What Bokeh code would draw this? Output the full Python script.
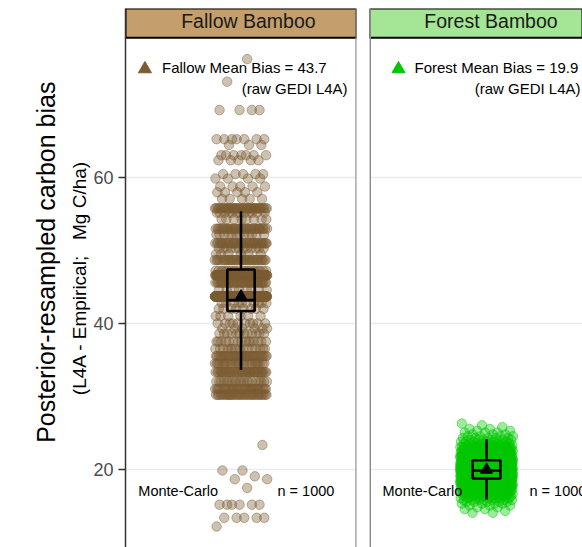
import math
from bokeh.plotting import figure
from bokeh.models import Range1d, Label, FixedTicker, Grid, Span
from bokeh.core.properties import value
from bokeh.layouts import row
from bokeh.embed import file_html
from bokeh.resources import INLINE

# ---------------- data ----------------
panels = ["Fallow Bamboo", "Forest Bamboo"]
mean_bias = [43.7, 19.9]
n_mc = [1000, 1000]
y_ticks = [20, 40, 60]

fallow_levels = [76.3, 73.2, 69.3, 65.3, 64.5, 63.1, 62.4, 60.5, 59.9, 58.8, 58.0, 57.1,
                 55.8, 55.2, 54.3, 53.0, 52.2, 51.0, 50.3, 49.5, 48.7,
                 47.2, 46.6, 45.6, 44.6, 43.7, 42.8, 42.0,
                 41.0, 40.0, 39.3, 38.6, 37.5, 36.5, 35.5, 34.5, 33.3, 32.0, 31.0, 30.2,
                 23.3, 19.8, 19.0, 18.6, 17.4, 15.1, 13.3, 12.1]
fallow_counts = [1, 1, 4, 7, 3, 7, 5, 5, 4, 5, 5, 5,
                 40, 12, 8, 35, 12, 40, 12, 6, 33,
                 20, 120, 40, 8, 276, 10, 8,
                 6, 10, 6, 12, 15, 15, 35, 25, 40, 20, 30, 35,
                 1, 2, 1, 2, 1, 6, 5, 1]

forest_levels = [14.0, 14.25, 14.5, 14.75, 15.0, 15.25, 15.5, 15.75, 16.0, 16.25,
                 16.5, 16.75, 17.0, 17.25, 17.5, 17.75, 18.0, 18.25, 18.5, 18.75,
                 19.0, 19.25, 19.5, 19.75, 20.0, 20.25, 20.5, 20.75, 21.0, 21.25,
                 21.5, 21.75, 22.0, 22.25, 22.5, 22.75, 23.0, 23.25, 23.5, 23.75,
                 24.0, 24.25, 24.5, 24.75, 25.0, 25.25, 25.5, 25.75, 26.0, 26.25]
forest_counts = [2, 1, 2, 2, 3, 4, 5, 7, 9, 11,
                 13, 16, 19, 22, 25, 29, 32, 36, 39, 42,
                 45, 48, 49, 50, 50, 49, 47, 44, 41, 38,
                 34, 30, 27, 23, 20, 17, 14, 11, 9, 7,
                 6, 5, 4, 3, 3, 2, 2, 1, 1, 1]

# box stats: [whisker low, Q1, median, Q3, whisker high]
fallow_box = [33.6, 41.7, 43.2, 47.4, 55.4]
forest_box = [15.8, 18.7, 19.8, 21.2, 24.1]

# ---------------- layout ----------------
FONT = "Liberation Sans"
BROWN = "#7B5B32"
GREEN = "#00C800"
STRIP_COLORS = ["#C49F6C", "#A4E596"]
X0, X1 = 0.4, 1.6
FRAME_W = 234.0
FRAME_TOP, FRAME_BOT = 8.0, 547.0
Y0, Y1 = 9.22, 83.25
L1, L2 = 122.0, 369.0
H = 547
W0 = 66


def xd(px, left):
    return X0 + (px - left) * (X1 - X0) / FRAME_W


def yd(py):
    return Y1 - (py - FRAME_TOP) * (Y1 - Y0) / (FRAME_BOT - FRAME_TOP)


def jitter_points(levels, counts, half):
    xs, ys = [], []
    k = 0
    for v, c in zip(levels, counts):
        for _ in range(c):
            k += 1
            f = (k * 0.6180339887498949) % 1.0
            xs.append(1.0 + (2 * f - 1) * half)
            ys.append(v)
    return xs, ys


def make_panel(idx, width, mbl, mbr, xend):
    p = figure(width=width, height=H, x_range=Range1d(X0, xend), y_range=Range1d(Y0, Y1),
               output_backend="svg", toolbar_location=None,
               min_border_left=mbl, min_border_right=mbr, min_border_top=int(FRAME_TOP),
               min_border_bottom=0,
               x_axis_location=None, y_axis_location=("left" if idx == 0 else None))
    p.outline_line_color = None
    p.background_fill_color = "white"
    p.border_fill_color = "white"
    p.xgrid.visible = False
    p.ygrid.visible = False
    p.add_layout(Grid(dimension=1, ticker=FixedTicker(ticks=y_ticks),
                      grid_line_color="#EBEBEB", grid_line_width=1.6))
    return p


def label(p, left, px, py, text, size, align="left", color="black"):
    p.add_layout(Label(x=xd(px, left), y=yd(py), text=text, text_font=FONT, text_font_size=size,
                       text_align=align, text_baseline="middle", text_color=color))


# title strip figure on the far left
p0 = figure(width=W0, height=H, x_range=Range1d(0, W0), y_range=Range1d(0, H),
            output_backend="svg", toolbar_location=None, min_border=0,
            x_axis_location=None, y_axis_location=None)
p0.outline_line_color = None
p0.xgrid.visible = False
p0.ygrid.visible = False
p0.text(x=[45.5], y=[H - 257.5], text=["Posterior-resampled carbon bias"], angle=math.pi / 2,
        text_font=value(FONT), text_font_size="25px", text_align="center",
        text_baseline="middle", text_color="black")

p1 = make_panel(0, 362 - W0, int(L1 - W0), 6, X1)
p2 = make_panel(1, 220, 7, 0, xd(582, L2))

# y axis styling
ax = p1.yaxis[0]
ax.ticker = FixedTicker(ticks=y_ticks)
ax.major_label_text_font = FONT
ax.major_label_text_font_size = "18px"
ax.major_label_text_color = "#4D4D4D"
ax.axis_line_color = "#333333"
ax.axis_line_width = 1.5
ax.major_tick_line_color = "#333333"
ax.major_tick_line_width = 1.5
ax.major_tick_out = 7
ax.major_tick_in = 0
ax.minor_tick_out = 0
ax.minor_tick_in = 0
ax.major_label_standoff = 5
ax.axis_label = "(L4A - Empirical;\u00a0\u00a0\u00a0Mg C/ha)"
ax.axis_label_text_font = FONT
ax.axis_label_text_font_size = "19px"
ax.axis_label_text_font_style = "normal"
ax.axis_label_text_color = "black"
ax.axis_label_standoff = 0

# panel borders
p1.add_layout(Span(location=xd(355.8, L1), dimension="height", line_color="#8A8A8A", line_width=1.8))
p2.add_layout(Span(location=xd(369.6, L2), dimension="height", line_color="#8A8A8A", line_width=1.8))

half = 0.136
for idx, (p, left, levels, counts, col, box) in enumerate([
        (p1, L1, fallow_levels, fallow_counts, BROWN, fallow_box),
        (p2, L2, forest_levels, forest_counts, GREEN, forest_box)]):
    xs, ys = jitter_points(levels, counts, half)
    p.scatter(xs, ys, size=9.5, fill_color=col, fill_alpha=0.38,
              line_color=col, line_alpha=0.45, line_width=1)
    lo, q1, med, q3, hi = box
    bw = 0.071
    p.segment(x0=[1, 1], y0=[hi, q1], x1=[1, 1], y1=[q3, lo], line_color="black", line_width=2.6)
    p.quad(left=[1 - bw], right=[1 + bw], bottom=[q1], top=[q3], fill_color=None,
           line_color="black", line_width=2.6)
    p.segment(x0=[1 - bw], y0=[med], x1=[1 + bw], y1=[med], line_color="black", line_width=2.6)
    p.scatter([1.0], [mean_bias[idx]], marker="triangle", size=12, color="black")

    # strip
    xe = p.x_range.end
    p.quad(left=[X0], right=[xe], bottom=[yd(37.3)], top=[Y1], fill_color=STRIP_COLORS[idx],
           line_color="black", line_width=2)

# strip texts
label(p1, L1, 246.5, 20.0, panels[0], "19.5px", "center", "#1A1A1A")
label(p2, L2, 490.5, 20.0, panels[1], "19.5px", "center", "#1A1A1A")

# mean annotations
p1.scatter([xd(141.7, L1)], [yd(68.5)], marker="triangle", size=13, color=BROWN)
p2.scatter([xd(398, L2)], [yd(68.5)], marker="triangle", size=13, color=GREEN)
for p, left, name, tx, rx, mb in [(p1, L1, "Fallow", 159, 347, mean_bias[0]),
                                  (p2, L2, "Forest", 414, 580, mean_bias[1])]:
    label(p, left, tx, 66.5, f"{name} Mean Bias = {mb}", "15px", "left")
    label(p, left, rx, 88.0, "(raw GEDI L4A)", "15px", "right")

for p, left, mx, nx, n in [(p1, L1, 135, 276, n_mc[0]), (p2, L2, 382, 529, n_mc[1])]:
    label(p, left, mx, 490.0, "Monte-Carlo", "14.5px", "left")
    label(p, left, nx, 490.0, f"n = {n}", "14.5px", "left")

layout = row(p0, p1, p2)
open("out.html", "w").write(file_html(layout, INLINE))
